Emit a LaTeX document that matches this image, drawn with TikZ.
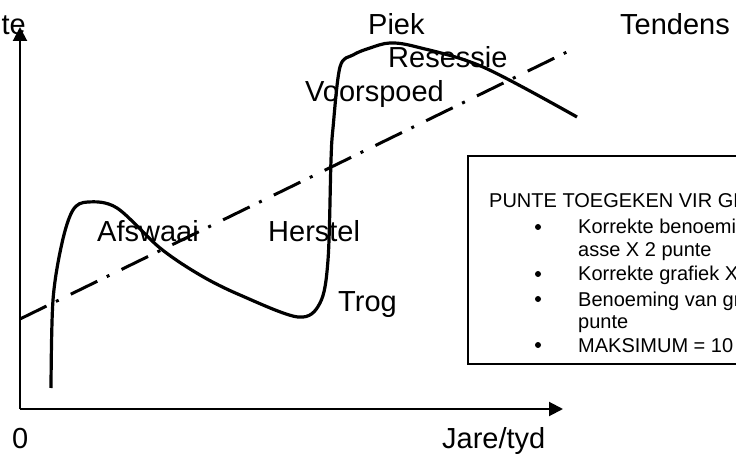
\documentclass[tikz,border=0pt]{standalone}
\usepackage{fontspec}
\setmainfont{Liberation Sans}
\usetikzlibrary{arrows.meta,positioning}

\tikzset{
  lbl/.style={anchor=base west, inner sep=0pt, font=\fontsize{29}{31}\selectfont},
  boxtxt/.style={anchor=base west, inner sep=0pt, font=\fontsize{20}{24}\selectfont},
  axis/.style={line width=2pt, -{Triangle[length=14pt,width=14pt]}},
  bizcurve/.style={line width=3.2pt, line join=round},
  trend/.style={line width=3pt, dash pattern=on 29.5pt off 10.5pt on 3pt off 13.5pt},
}

\begin{document}
\begin{tikzpicture}[x=1pt,y=-1pt]
  \useasboundingbox (0,0) rectangle (736,454);
  \clip (0,0) rectangle (736,454);

  % axes
  \coordinate (O) at (20,409);
  \coordinate (ytop) at (20,27);
  \coordinate (xend) at (563,409);
  \node[lbl, anchor=base east] (yaxis) at (26,35) {te};
  \draw[axis] (O) -- (ytop);
  \draw[axis] (O) -- (xend);
  \node[lbl] (origin) at (12,448) {0};
  \node[lbl] (jare) at (442,448) {Jare/tyd};

  % trend line
  \coordinate (trendA) at (20,319);
  \coordinate (trendB) at (566.3,52.3);
  \draw[trend] (trendA) -- (trendB);

  % business cycle
  \draw[bizcurve] plot[smooth, tension=0.55] coordinates {
    (51,388) (53,300) (62,243) (73,210) (88,202) (117,208) (160,248)
    (200,275) (240,295) (298,317) (320,303) (328,260) (331,160) (333,128)
    (340,67) (353,55) (370,48) (390,43) (417,47) (483,67) (577,117)};

  % phases
  \node[lbl] (piek) at (368,35) {Piek};
  \node[lbl] (resessie) at (388,68) {Resessie};
  \node[lbl] (voorspoed) at (305,102) {Voorspoed};
  \node[lbl] (tendens) at (620,35) {Tendens};
  \node[lbl] (afswaai) at (97,242) {Afswaai};
  \node[lbl] (herstel) at (268,242) {Herstel};
  \node[lbl] (trog) at (338,312) {Trog};

  % marks box
  \coordinate (boxnw) at (468,156);
  \coordinate (boxse) at (760,364);
  \draw[line width=1.5pt] (boxnw) rectangle (boxse);
  \node[boxtxt] (head) at (489,208) {PUNTE TOEGEKEN VIR GR};
  \foreach \y/\b/\t in {234/1/Korrekte benoemi, 257/0/asse X 2 punte,
                        281/1/Korrekte grafiek X, 306/1/Benoeming van gr,
                        328/0/punte, 352/1/MAKSIMUM = 10} {
    \node[boxtxt] (item\y) at (578,\y) {\t};
    \ifnum\b=1 \fill (538,{\y-7}) circle (3pt); \fi
  }
\end{tikzpicture}
\end{document}
